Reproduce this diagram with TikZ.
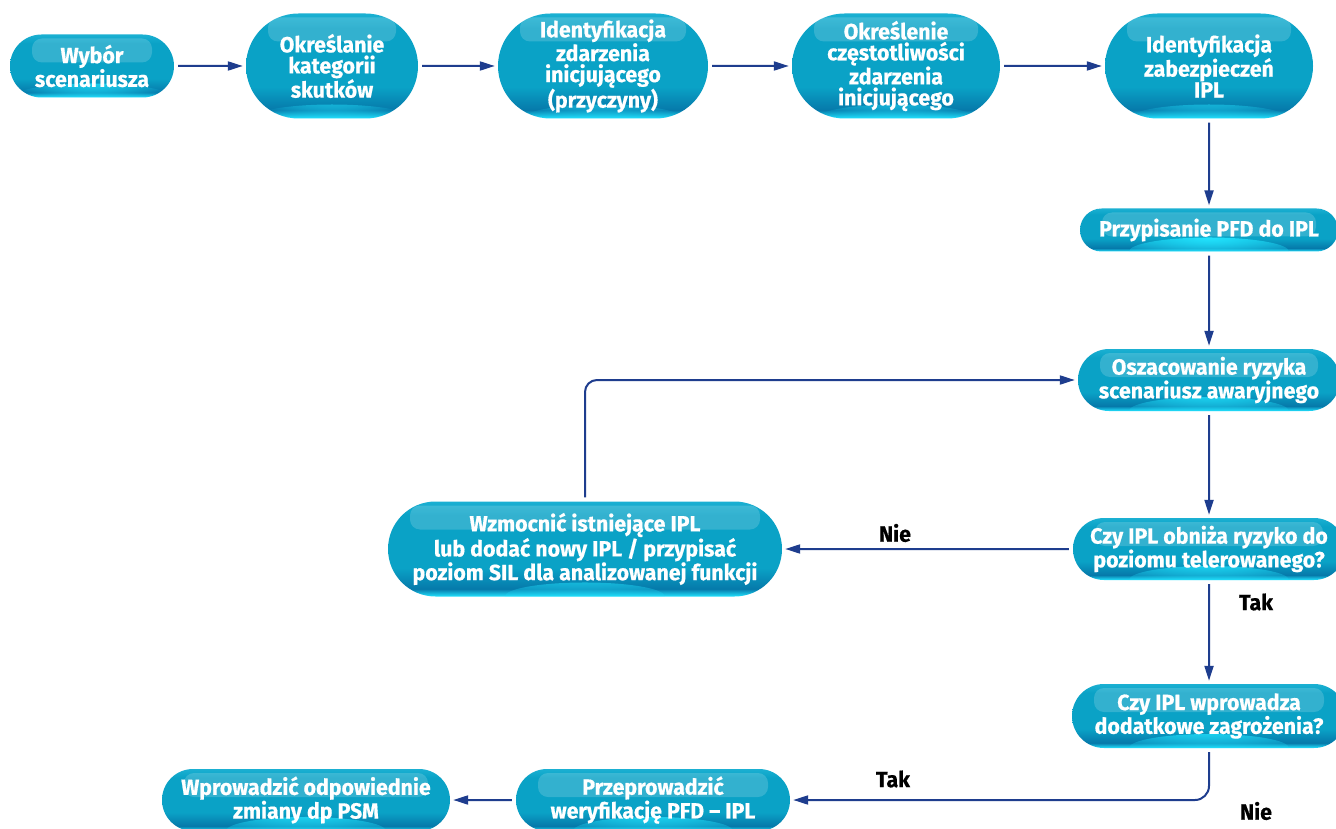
\documentclass[tikz,border=0pt]{standalone}
\usepackage{fontspec}
\newfontfamily\boxfont{Fira Sans}[FakeStretch=0.97, BoldFeatures={FakeBold=0.6}]
\usetikzlibrary{shapes.misc, arrows.meta, fadings}
\definecolor{basec}{HTML}{0AA2C6}
\definecolor{topc}{HTML}{1BB0D2}
\definecolor{deepc}{HTML}{0679AA}
\definecolor{glowc}{HTML}{22E4FF}
\definecolor{linec}{HTML}{1E3D8E}
\pgfdeclareverticalshading{gloss}{100bp}{color(0bp)=(glowc); color(25bp)=(glowc); color(29bp)=(deepc); color(40bp)=(basec); color(68bp)=(basec); color(75bp)=(topc); color(100bp)=(topc)}
\tikzfading[name=glowfade, inner color=transparent!0, outer color=transparent!100]

\begin{document}
\begin{tikzpicture}[x=1pt, y=-1pt,
    stage/.style={rounded rectangle, shading=gloss, text=white, align=center, inner sep=0pt,
        font=\boxfont\bfseries\fontsize{22}{21}\selectfont,
        path picture={
            \fill[glowc, path fading=glowfade] (path picture bounding box.south) ellipse (80pt and 14pt);
            \fill[white, opacity=.17, rounded corners=10pt]
                ([xshift=22pt, yshift=-4pt]path picture bounding box.north west) rectangle
                ([xshift=-22pt, yshift=-28pt]path picture bounding box.north east);}},
    flow/.style={draw=linec, line width=2pt, -{Triangle[length=15pt, width=9pt]}, shorten <=4pt, shorten >=3pt},
    lbl/.style={font=\boxfont\bfseries\fontsize{22}{21}\selectfont}]
    \path[use as bounding box, fill=white] (0,0) rectangle (1336,829);
    % top row
    \node[stage, minimum width=164pt, minimum height=63pt] (sel) at (92,66) {Wybór\\scenariusza};
    \node[stage, minimum width=172pt, minimum height=105pt] (cat) at (332,66) {Określanie\\kategorii\\skutków};
    \node[stage, minimum width=210pt, minimum height=105pt] (init) at (603,66) {Identyfikacja\\zdarzenia\\inicjującego\\(przyczyny)};
    \node[stage, minimum width=208pt, minimum height=105pt] (freq) at (896,66) {Określenie\\częstotliwości\\zdarzenia\\inicjującego};
    \node[stage, minimum width=208pt, minimum height=105pt] (ipl) at (1209,66) {Identyfikacja\\zabezpieczeń\\IPL};
    % right column
    \node[stage, minimum width=258pt, minimum height=43pt] (pfd) at (1209,230) {Przypisanie PFD do IPL};
    \node[stage, minimum width=262pt, minimum height=62pt] (risk) at (1209,380) {Oszacowanie ryzyka\\scenariusz awaryjnego};
    \node[stage, minimum width=272pt, minimum height=62pt] (lower) at (1209,549) {Czy IPL obniża ryzyko do\\poziomu telerowanego?};
    \node[stage, minimum width=274pt, minimum height=64pt] (haz) at (1209,716) {Czy IPL wprowadza\\dodatkowe zagrożenia?};
    % left part
    \node[stage, minimum width=394pt, minimum height=95pt] (boost) at (585,549) {Wzmocnić istniejące IPL\\lub dodać nowy IPL / przypisać\\poziom SIL dla analizowanej funkcji};
    \node[stage, minimum width=274pt, minimum height=62pt] (verif) at (653,800) {Przeprowadzić\\weryfikację PFD – IPL};
    \node[stage, minimum width=288pt, minimum height=62pt] (change) at (306,800) {Wprowadzić odpowiednie\\zmiany dp PSM};

    \draw[flow] (sel) -- (cat);
    \draw[flow] (cat) -- (init);
    \draw[flow] (init) -- (freq);
    \draw[flow] (freq) -- (ipl);
    \draw[flow] (ipl) -- (pfd);
    \draw[flow] (pfd) -- (risk);
    \draw[flow] (risk) -- (lower);
    \draw[flow] (lower) -- (haz);
    \draw[flow] (lower) -- (boost);
    \draw[flow, rounded corners=12pt] (boost) |- (risk);
    \draw[flow, rounded corners=14pt] (haz) |- (verif);
    \draw[flow] (verif) -- (change);

    \node[lbl] (no1) at (895,533) {Nie};
    \node[lbl] (yes1) at (1256,602) {Tak};
    \node[lbl] (yes2) at (893,779) {Tak};
    \node[lbl] (no2) at (1256,811) {Nie};
\end{tikzpicture}
\end{document}
